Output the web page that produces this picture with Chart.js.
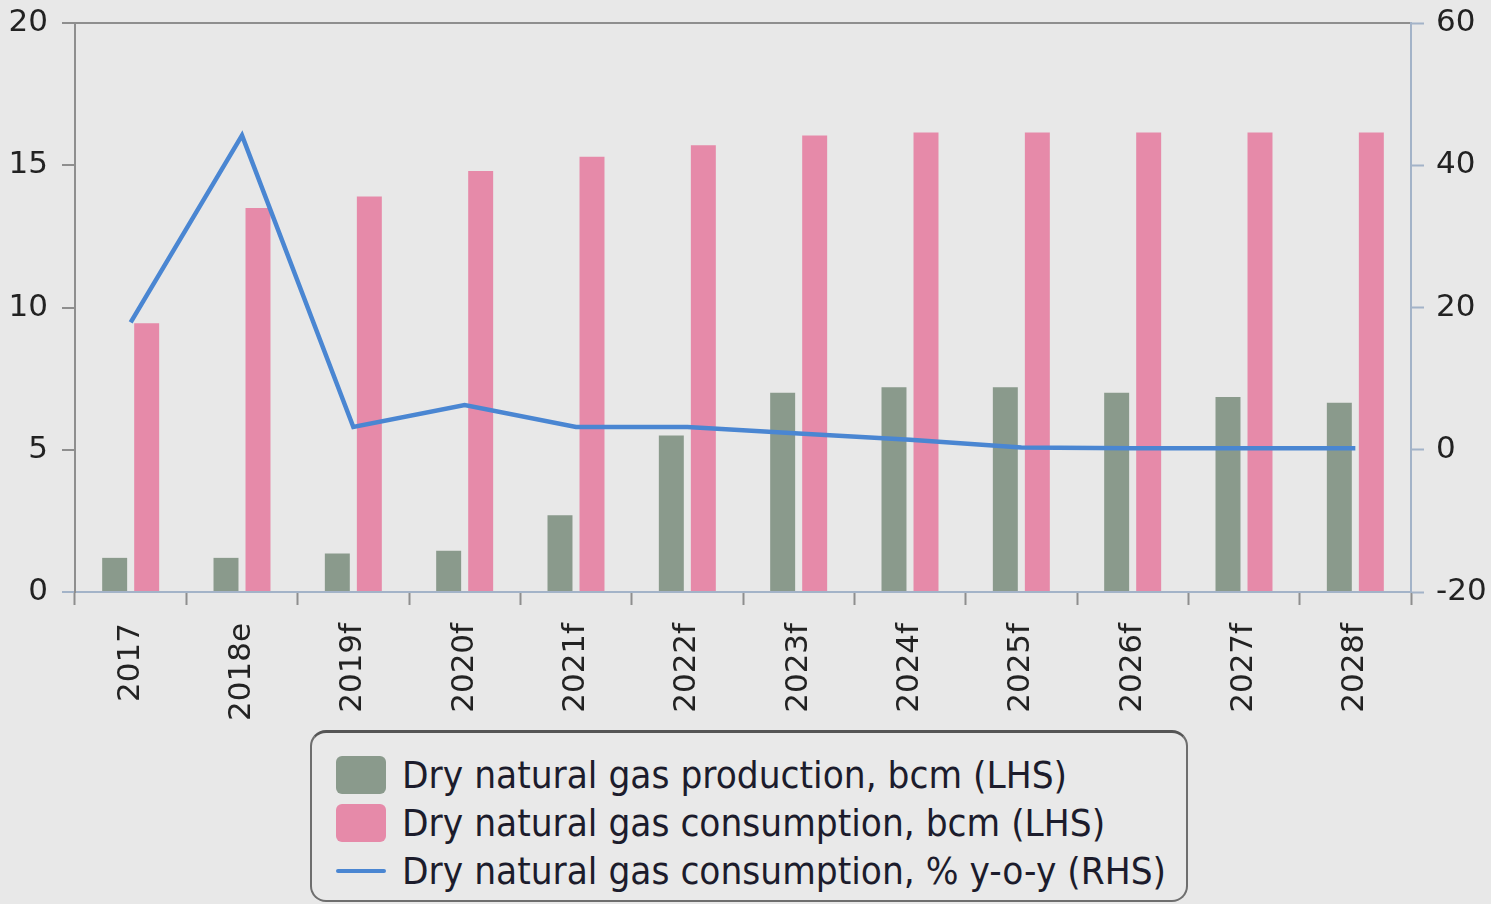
<!DOCTYPE html>
<html>
<head>
<meta charset="utf-8">
<script src="https://cdn.jsdelivr.net/npm/chart.js@4"></script>
<style>
  html, body { margin:0; padding:0; background:#e8e8e8; }
  #wrap { position:relative; width:1491px; height:904px; background:#e8e8e8; overflow:hidden; }
  #c { position:absolute; left:0; top:0; }
  #legend { position:absolute; left:310px; top:730px; width:878px; height:172px; box-sizing:border-box;
            border:2px solid #6e6e6e; border-top:3px solid #555; border-radius:16px; background:#e9e9e9; }
  .row { position:absolute; left:0; height:48px; display:flex; align-items:center; }
  .sw { position:absolute; left:24px; width:50px; height:38px; border-radius:6px; }
  .ln { position:absolute; left:24px; width:50px; height:4px; background:#4a86d2; border-radius:2px; }
  .tx { position:absolute; left:90px; white-space:nowrap; font-family:"DejaVu Sans", sans-serif; font-size:38px;
        color:#1c1c2c; transform-origin:left center; line-height:48px; }
</style>
</head>
<body>
<div id="wrap">
  <canvas id="c" width="1491" height="904"></canvas>
  <div id="legend"></div>
</div>
<script>
const categories = ['2017','2018e','2019f','2020f','2021f','2022f','2023f','2024f','2025f','2026f','2027f','2028f'];
const production = [1.2, 1.2, 1.35, 1.45, 2.7, 5.5, 7.0, 7.2, 7.2, 7.0, 6.85, 6.65];
const consumption = [9.45, 13.5, 13.9, 14.8, 15.3, 15.7, 16.05, 16.15, 16.15, 16.15, 16.15, 16.15];
const yoy = [17.9, 44.2, 3.2, 6.3, 3.2, 3.2, 2.3, 1.4, 0.3, 0.2, 0.2, 0.2];
const leftTicks = [0, 5, 10, 15, 20];
const rightTicks = [-20, 0, 20, 40, 60];
const seriesNames = ['Dry natural gas production, bcm (LHS)', 'Dry natural gas consumption, bcm (LHS)', 'Dry natural gas consumption, % y-o-y (RHS)'];

const GREEN = '#8a9a8c', PINK = '#e68aa9', BLUE = '#4a86d2';
const AXIS_GRAY = '#8e8e8e', AXIS_BLUE = '#a3b3c8';
const tickFont = { family: 'DejaVu Sans', size: 31 };

new Chart(document.getElementById('c'), {
  data: {
    labels: categories,
    datasets: [
      { type:'line', label: seriesNames[2], data: yoy, yAxisID:'y1', borderColor: BLUE, borderWidth: 4.5,
        pointRadius: 0, tension: 0, fill: false, order: 0 },
      { type:'bar', label: seriesNames[0], data: production, yAxisID:'y', backgroundColor: GREEN,
        categoryPercentage: 0.575, barPercentage: 0.78, order: 1 },
      { type:'bar', label: seriesNames[1], data: consumption, yAxisID:'y', backgroundColor: PINK,
        categoryPercentage: 0.575, barPercentage: 0.78, order: 1 }
    ]
  },
  options: {
    responsive: false,
    animation: false,
    layout: { padding: { top: 23, left: 0, right: 0, bottom: 0 } },
    plugins: { legend: { display: false }, tooltip: { enabled: false } },
    scales: {
      x: {
        offset: true,
        grid: { offset: true, drawOnChartArea: false, tickLength: 13, tickColor: AXIS_GRAY, tickWidth: 2 },
        border: { color: AXIS_BLUE, width: 2 },
        ticks: { font: tickFont, color: '#222', minRotation: 90, maxRotation: 90, padding: 18, autoSkip: false },
        afterFit: s => { s.height = 312; s.paddingLeft = 0; s.paddingRight = 0; }
      },
      y: {
        position: 'left', min: 0, max: 20,
        afterBuildTicks: s => { s.ticks = leftTicks.map(v => ({ value: v })); },
        grid: {
          drawOnChartArea: true, tickLength: 13, lineWidth: 2, tickWidth: 2,
          color: c => c.tick && c.tick.value === 20 ? AXIS_GRAY : (c.tick && c.tick.value === 0 ? AXIS_BLUE : 'rgba(0,0,0,0)'),
          tickColor: c => c.tick && c.tick.value === 0 ? AXIS_BLUE : AXIS_GRAY
        },
        border: { color: AXIS_GRAY, width: 2 },
        ticks: { font: tickFont, color: '#222', padding: 14 },
        afterFit: s => { s.width = 75; s.paddingTop = 0; s.paddingBottom = 0; }
      },
      y1: {
        position: 'right', min: -20, max: 60,
        afterBuildTicks: s => { s.ticks = rightTicks.map(v => ({ value: v })); },
        grid: { drawOnChartArea: false, tickLength: 13, tickColor: AXIS_BLUE, tickWidth: 2 },
        border: { color: AXIS_BLUE, width: 2 },
        ticks: { font: tickFont, color: '#222', padding: 12 },
        afterFit: s => { s.width = 80; s.paddingTop = 0; s.paddingBottom = 0; }
      }
    }
  }
});

// HTML legend
const lg = document.getElementById('legend');
const rowsTop = [18, 66, 114];
seriesNames.forEach((name, i) => {
  const r = document.createElement('div');
  r.className = 'row';
  r.style.top = rowsTop[i] + 'px';
  r.style.width = '100%';
  if (i < 2) {
    const sw = document.createElement('div');
    sw.className = 'sw';
    sw.style.top = '5px';
    sw.style.background = i === 0 ? GREEN : PINK;
    r.appendChild(sw);
  } else {
    const ln = document.createElement('div');
    ln.className = 'ln';
    ln.style.top = '22px';
    r.appendChild(ln);
  }
  const tx = document.createElement('div');
  tx.className = 'tx';
  tx.style.top = '0px';
  tx.textContent = name;
  r.appendChild(tx);
  lg.appendChild(r);
});
// scale legend text horizontally so first line spans ~665px
const txs = lg.querySelectorAll('.tx');
const w0 = txs[0].getBoundingClientRect().width;
const sx = 665 / w0;
txs.forEach(t => { t.style.transform = 'scaleX(' + sx + ')'; });
</script>
</body>
</html>
